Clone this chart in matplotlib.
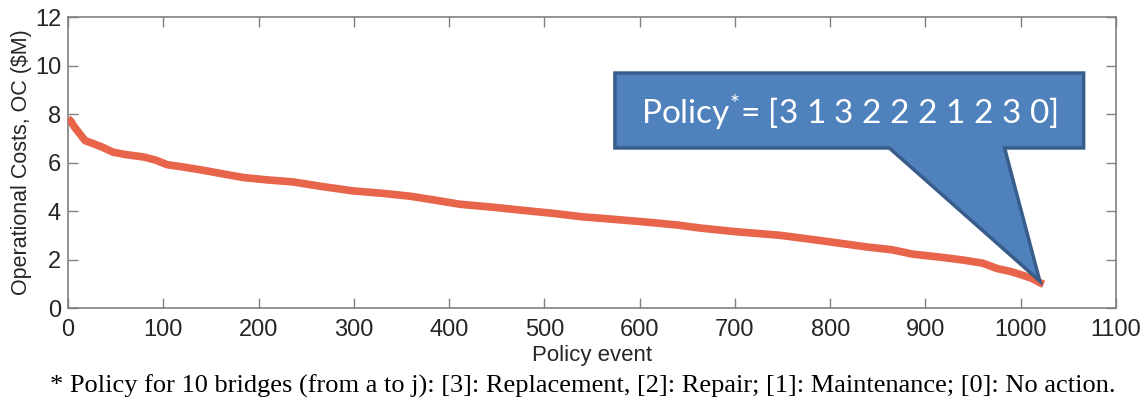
import matplotlib
matplotlib.use("Agg")
import matplotlib.pyplot as plt
from matplotlib.patches import Polygon

# Data (sorted operational cost per policy event)
policy_event = [0, 3, 7, 12, 18, 25, 35, 47, 60, 79, 92, 104, 120, 142, 160, 184, 210,
                236, 265, 299, 330, 359, 385, 411, 445, 477, 510, 540, 575, 611, 640,
                663, 700, 747, 790, 838, 865, 887, 915, 939, 960, 975, 990, 1002, 1012,
                1020, 1024]
op_cost = [7.82, 7.7, 7.45, 7.2, 6.9, 6.8, 6.65, 6.43, 6.33, 6.23, 6.1, 5.91, 5.82, 5.68,
           5.55, 5.38, 5.28, 5.2, 5.02, 4.83, 4.73, 4.61, 4.45, 4.28, 4.16, 4.03, 3.9,
           3.76, 3.65, 3.53, 3.42, 3.3, 3.15, 3.0, 2.78, 2.52, 2.4, 2.22, 2.1, 1.98,
           1.85, 1.63, 1.5, 1.35, 1.22, 1.05, 0.98]

x_ticks = list(range(0, 1101, 100))
y_ticks = [0, 2, 4, 6, 8, 10, 12]
callout_text = "Policy$^{*}$= [3 1 3 2 2 2 1 2 3 0]"
footnote = "* Policy for 10 bridges (from a to j): [3]: Replacement, [2]: Repair; [1]: Maintenance; [0]: No action."

plt.rcParams['font.family'] = ['Liberation Sans', 'DejaVu Sans']
plt.rcParams['mathtext.fontset'] = 'custom'
plt.rcParams['mathtext.rm'] = 'Lato'
plt.rcParams['mathtext.it'] = 'Lato'

fig = plt.figure(figsize=(11.47, 4.03), dpi=100)
ax = fig.add_axes([0.0593, 0.2357, 0.9137, 0.7221])

ax.plot(policy_event, op_cost, color='#E8644A', lw=5.5, solid_capstyle='butt',
        solid_joinstyle='round', zorder=3)

ax.set_xlim(0, 1100)
ax.set_ylim(0, 12)
ax.set_xticks(x_ticks)
ax.set_yticks(y_ticks)
ax.tick_params(direction='in', top=True, right=True, length=7, width=1,
               color='#808080', labelcolor='#262626', labelsize=17)
ax.tick_params(axis='x', pad=8)
ax.tick_params(axis='y', pad=5)
for s in ax.spines.values():
    s.set_color('#808080')
    s.set_linewidth(1.2)

ax.set_xlabel('Policy event', fontsize=16, color='#262626', labelpad=3)
ax.set_ylabel('Operational Costs, OC ($M)', fontsize=15.5, color='#262626', labelpad=2)

# Callout shape
poly = Polygon([(574, 6.6), (574, 9.69), (1066, 9.69), (1066, 6.6), (983, 6.6),
                (1020, 1.11), (862, 6.6)], closed=True, facecolor='#4F81BD',
               edgecolor='#385D8A', lw=2.5, clip_on=False, zorder=5, joinstyle='miter')
ax.add_patch(poly)
ax.text(820, 8.05, callout_text, fontsize=24, family='Lato', color='white',
        ha='center', va='center', zorder=6)

fig.text(0.508, 0.042, footnote, fontsize=19, family='Liberation Serif',
         color='black', ha='center', va='center')

fig.savefig('out.png', dpi=100)
